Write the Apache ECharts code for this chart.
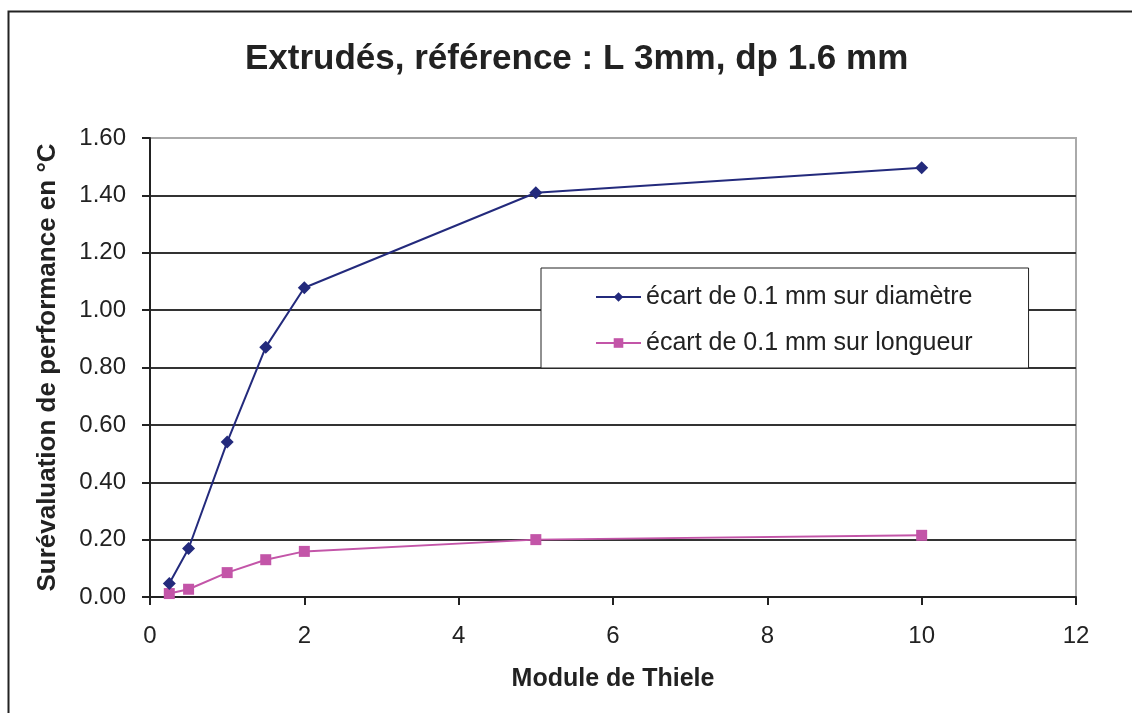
<!DOCTYPE html>
<html>
<head>
<meta charset="utf-8">
<script src="https://cdn.jsdelivr.net/npm/echarts@6/dist/echarts.min.js"></script>
<style>
  html, body { margin: 0; padding: 0; background: #fff; }
  #chart { width: 1132px; height: 713px; }
</style>
</head>
<body>
<div id="chart"></div>
<script>
// Thiele modulus values (x) shared by both series
const thiele = [0.25, 0.5, 1, 1.5, 2, 5, 10];
// Performance overestimation (°C) for a 0.1 mm deviation
const ecartDiametre = [0.047, 0.169, 0.54, 0.871, 1.078, 1.409, 1.496];
const ecartLongueur = [0.012, 0.027, 0.085, 0.13, 0.159, 0.20, 0.215];
const seriesNames = ['écart de 0.1 mm sur diamètre', 'écart de 0.1 mm sur longueur'];

const FONT = '"Liberation Sans", Arial, sans-serif';
const pairs = (ys) => thiele.map((x, i) => [x, ys[i]]);

const chart = echarts.init(document.getElementById('chart'), null, { renderer: 'canvas' });

chart.setOption({
  backgroundColor: '#fff',
  animation: false,
  title: {
    text: 'Extrudés, référence : L 3mm, dp 1.6 mm',
    left: 240,
    top: 37,
    textStyle: { fontFamily: FONT, fontSize: 35, fontWeight: 'bold', color: '#222' }
  },
  graphic: [{
    type: 'rect',
    shape: { x: 8.5, y: 11.5, width: 1300, height: 900 },
    style: { fill: 'none', stroke: '#222', lineWidth: 2 },
    silent: true,
    z: -1
  }],
  legend: {
    orient: 'vertical',
    left: 541,
    top: 268,
    padding: [15, 56, 11, 54],
    itemWidth: 45,
    itemHeight: 12,
    itemGap: 18,
    borderColor: '#222',
    borderWidth: 1,
    backgroundColor: '#fff',
    textStyle: { fontFamily: FONT, fontSize: 25, color: '#222', lineHeight: 28 },
    data: seriesNames
  },
  grid: {
    left: 150, top: 138, right: 56, bottom: 116,
    show: true, borderColor: '#aaa', borderWidth: 2, backgroundColor: '#fff'
  },
  xAxis: {
    type: 'value',
    min: 0, max: 12, interval: 2,
    name: 'Module de Thiele',
    nameLocation: 'middle',
    nameGap: 70,
    nameTextStyle: { fontFamily: FONT, fontSize: 25, fontWeight: 'bold', color: '#222' },
    axisLine: { lineStyle: { color: '#222', width: 2 } },
    axisTick: { show: true, length: 8, lineStyle: { color: '#222', width: 2 } },
    axisLabel: { fontFamily: FONT, fontSize: 24, color: '#222', margin: 27 },
    splitLine: { show: false }
  },
  yAxis: {
    type: 'value',
    min: 0, max: 1.6, interval: 0.2,
    name: 'Surévaluation de performance en °C',
    nameLocation: 'middle',
    nameGap: 89,
    nameTextStyle: { fontFamily: FONT, fontSize: 26, fontWeight: 'bold', color: '#222' },
    axisLine: { show: true, lineStyle: { color: '#222', width: 2 } },
    axisTick: { show: true, length: 8, lineStyle: { color: '#222', width: 2 } },
    axisLabel: {
      fontFamily: FONT, fontSize: 24, color: '#222', margin: 24,
      formatter: (v) => v.toFixed(2)
    },
    splitLine: {
      show: true,
      lineStyle: {
        color: ['#333', '#333', '#333', '#333', '#333', '#333', '#333', '#333', '#aaa'],
        width: 2
      }
    }
  },
  series: [
    {
      name: seriesNames[0],
      type: 'line',
      data: pairs(ecartDiametre),
      symbol: 'diamond',
      symbolSize: 13,
      lineStyle: { color: '#232a7c', width: 2 },
      itemStyle: { color: '#232a7c' },
      z: 3
    },
    {
      name: seriesNames[1],
      type: 'line',
      data: pairs(ecartLongueur),
      symbol: 'rect',
      symbolSize: 11,
      lineStyle: { color: '#c355a8', width: 2 },
      itemStyle: { color: '#c355a8' },
      z: 2
    }
  ]
});
</script>
</body>
</html>
